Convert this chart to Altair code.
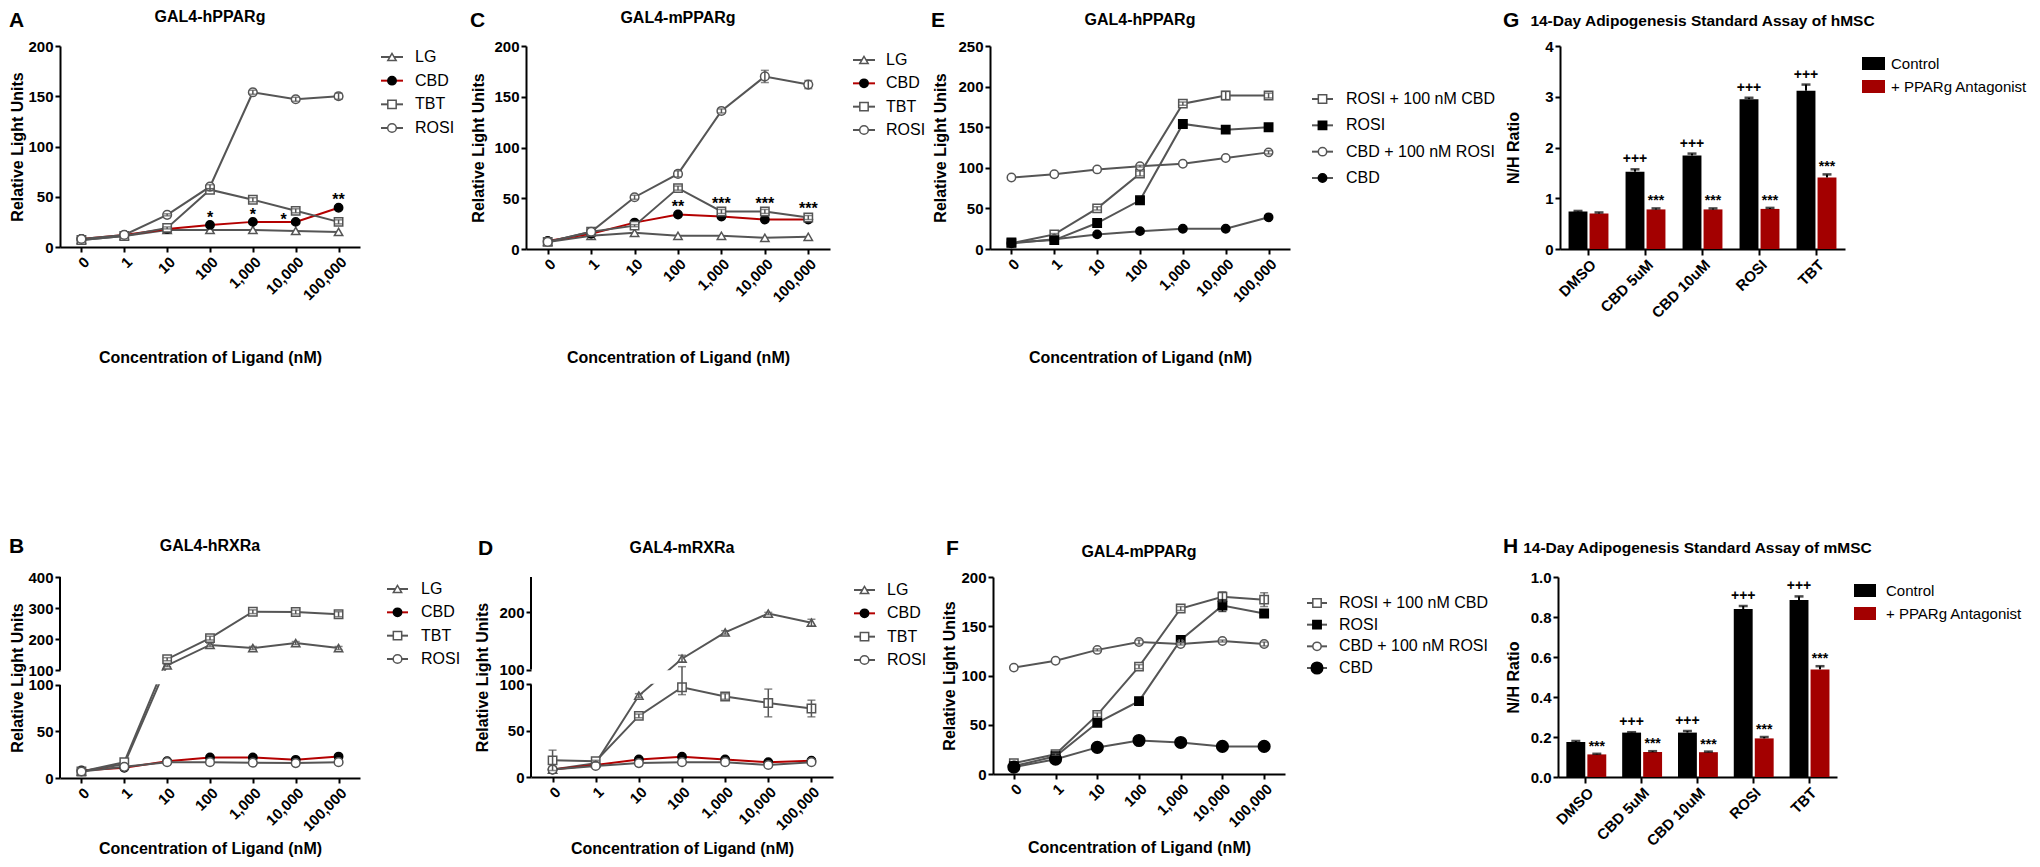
import altair as alt
import pandas as pd

FONT = "Liberation Sans, Arial, Helvetica, sans-serif"
GRAY = "#555555"
RED_LINE = "#b40000"
RED_BAR = "#a30000"

# ---------------- data ----------------
CONC = ["0", "1", "10", "100", "1,000", "10,000", "100,000"]
LIG = ["LG", "CBD", "TBT", "ROSI"]
COMBO = ["ROSI + 100 nM CBD", "ROSI", "CBD + 100 nM ROSI", "CBD"]

# A: GAL4-hPPARg
A_LG = [7, 11, 17, 17, 17, 16, 15]
A_CBD = [8, 12, 18, 22, 25, 25, 39]
A_TBT = [7, 11, 19, 57, 47, 36, 25]
A_ROSI = [8, 12, 32, 60, 154, 147, 150]
A_TBT_ERR = [0, 0, 1, 1, 2, 2, 2]
A_ROSI_ERR = [0, 0, 1, 2, 2, 2, 3]
A_STAR_AT = ["100", "1,000", "10,000", "100,000"]
A_STARS = ["*", "*", "*", "**"]

# C: GAL4-mPPARg
C_LG = [7, 13, 16, 13, 13, 11, 12]
C_CBD = [8, 15, 26, 34, 32, 29, 29]
C_TBT = [7, 17, 23, 60, 37, 37, 31]
C_ROSI = [7, 17, 51, 74, 136, 170, 162]
C_TBT_ERR = [0, 0, 1, 2, 2, 2, 2]
C_ROSI_ERR = [0, 0, 2, 3, 2, 6, 4]
C_STAR_AT = ["100", "1,000", "10,000", "100,000"]
C_STARS = ["**", "***", "***", "***"]

# B: GAL4-hRXRa
B_LG = [7, 15, 115, 181, 171, 187, 171]
B_CBD = [8, 11, 18, 22, 22, 19.5, 23]
B_TBT = [7, 17, 135, 203, 288, 287, 280]
B_ROSI = [7, 12, 17, 17, 16.5, 16, 17]
B_LG_ERR = [0, 0, 4, 5, 5, 5, 5]
B_TBT_ERR = [0, 0, 5, 6, 6, 6, 8]

# D: GAL4-mRXRa
D_LG = [8, 15, 88, 119, 165, 198, 182]
D_CBD = [8, 13, 19, 22, 19, 16, 17.5]
D_TBT = [18, 17, 66, 97, 87, 80, 74]
D_ROSI = [8, 12, 15, 16, 16, 13, 16]
D_LG_ERR = [0, 0, 2, 6, 3, 2, 6]
D_TBT_ERR = [11, 1, 2, 8, 3, 15, 9]

# E: GAL4-hPPARg combinations
E_RC = [7, 18, 50, 93, 179, 189, 189]
E_ROSI = [8, 11, 32, 60, 154, 147, 150]
E_CR = [88, 92, 98, 102, 105, 112, 119]
E_CBD = [7, 12, 18, 22, 25, 25, 39]
E_RC_ERR = [0, 1, 2, 3, 2, 5, 3]
E_CR_ERR = [0, 0, 0, 1, 0, 0, 2]

# F: GAL4-mPPARg combinations
F_RC = [11, 20, 60, 109, 168, 180, 177]
F_ROSI = [8, 18, 52, 74, 136, 171, 163]
F_CR = [108, 115, 126, 134, 132, 135, 132]
F_CBD = [7, 15, 27, 34, 32, 28, 28]
F_RC_ERR = [0, 1, 2, 2, 2, 5, 7]
F_ROSI_ERR = [0, 0, 1, 1, 2, 6, 2]
F_CR_ERR = [0, 0, 1, 2, 1, 1, 2]

# G / H: adipogenesis bars
BAR_CATS = ["DMSO", "CBD 5uM", "CBD 10uM", "ROSI", "TBT"]
BAR_GROUPS = ["Control", "+ PPARg Antagonist"]
G_CTRL = [0.74, 1.52, 1.84, 2.95, 3.12]
G_CTRL_ERR = [0.01, 0.05, 0.04, 0.03, 0.12]
G_ANT = [0.70, 0.78, 0.78, 0.79, 1.41]
G_ANT_ERR = [0.02, 0.02, 0.02, 0.02, 0.06]
G_CTRL_MARK = ["", "+++", "+++", "+++", "+++"]
G_ANT_MARK = ["", "***", "***", "***", "***"]
H_CTRL = [0.175, 0.222, 0.222, 0.84, 0.885]
H_CTRL_ERR = [0.005, 0.002, 0.008, 0.015, 0.018]
H_ANT = [0.113, 0.125, 0.124, 0.193, 0.538]
H_ANT_ERR = [0.003, 0.004, 0.003, 0.007, 0.016]
H_CTRL_MARK = ["", "+++", "+++", "+++", "+++"]
H_ANT_MARK = ["***", "***", "***", "***", "***"]

# ---------------- styles / layout (page pixel coordinates) ----------------
STYLE_LIG = {
    "LG": dict(shape="triangle-up", fill="white", stroke=GRAY, line=GRAY, size=70),
    "CBD": dict(shape="circle", fill="black", stroke="black", line=RED_LINE, size=70),
    "TBT": dict(shape="square", fill="white", stroke=GRAY, line=GRAY, size=70),
    "ROSI": dict(shape="circle", fill="white", stroke=GRAY, line=GRAY, size=75),
}
STYLE_E = {
    "ROSI + 100 nM CBD": dict(shape="square", fill="white", stroke=GRAY, line=GRAY, size=70),
    "ROSI": dict(shape="square", fill="black", stroke="black", line=GRAY, size=70),
    "CBD + 100 nM ROSI": dict(shape="circle", fill="white", stroke=GRAY, line=GRAY, size=70),
    "CBD": dict(shape="circle", fill="black", stroke="black", line=GRAY, size=70),
}
STYLE_F = dict(STYLE_E)
STYLE_F["CBD"] = dict(shape="circle", fill="black", stroke="black", line=GRAY, size=135)

A_STAR_OFF = [(0, -2), (0, -2), (-12, 3), (0, -3)]
C_STAR_OFF = [(0, -2), (0, -8), (0, -11), (0, -6)]

GEO = {
    "A": dict(PL=60, PT=46, W=300, H=201, X0=8, X1=466, RT=8, RB=468, letter=(9, 27), title_y=22,
              ly=(57, 128), lx=(381, 403), mx=392, tx=415, ytp=3, xtp=42),
    "C": dict(PL=526, PT=46, W=304, H=203, X0=466, X1=930, RT=8, RB=468, letter=(470, 27), title_y=23,
              ly=(60, 130), lx=(853, 875), mx=864, tx=886, ytp=8, xtp=40),
    "E": dict(PL=990, PT=46, W=300, H=203, X0=930, X1=1502, RT=8, RB=468, letter=(931, 27), title_y=25,
              ly=(99, 178), lx=(1312, 1333), mx=1322.5, tx=1346, ytp=10, xtp=40),
    "G": dict(PL=1560, PT=46, W=285, H=203, X0=1502, X1=2030, RT=8, RB=468, letter=(1503, 27), title_y=26,
              ly=(63.5, 86.5), lx=(1862, 1885), tx=1891, ytp=7),
    "B": dict(PL=60, PT=577, W=300, H=201, X0=8, X1=466, RT=468, RB=858, letter=(9, 553), title_y=551,
              ly=(589, 659), lx=(387, 408), mx=397.5, tx=421, ytp=3, xtp=2),
    "D": dict(PL=531, PT=577, W=302, H=200, X0=466, X1=930, RT=468, RB=858, letter=(478, 555), title_y=553,
              ly=(590, 660), lx=(854, 875), mx=864.5, tx=887, ytp=9, xtp=3),
    "F": dict(PL=993, PT=577, W=292, H=197, X0=930, X1=1502, RT=468, RB=858, letter=(946, 555), title_y=557,
              ly=(603, 668), lx=(1307, 1327), mx=1317, tx=1339, ytp=4, xtp=5),
    "H": dict(PL=1558, PT=577, W=279, H=200, X0=1502, X1=2030, RT=468, RB=858, letter=(1503, 553), title_y=553,
              ly=(590.5, 613.5), lx=(1854, 1876), tx=1886, ytp=5),
}

ONE = pd.DataFrame({"k": [0]})


def deco(g, letter, title, title_size=16):
    box = alt.Chart(ONE).mark_rule(opacity=0).encode(
        x=alt.value(g["X0"] - g["PL"]), x2=alt.value(g["X1"] - g["PL"]),
        y=alt.value(g["RT"] - g["PT"]), y2=alt.value(g["RB"] - g["PT"]))
    let = alt.Chart(ONE).mark_text(text=letter, font=FONT, fontSize=21, fontWeight="bold", align="left",
                                   baseline="alphabetic", color="black").encode(
        x=alt.value(g["letter"][0] - g["PL"]), y=alt.value(g["letter"][1] - g["PT"]))
    tit = alt.Chart(ONE).mark_text(text=title, font=FONT, fontSize=title_size, fontWeight="bold", align="center",
                                   baseline="alphabetic", color="black").encode(
        x=alt.value(g["W"] / 2), y=alt.value(g["title_y"] - g["PT"]))
    return [box, let, tit]


def disp(field, broken):
    if broken is None:
        return f"datum.{field}"
    gap, k = broken
    return f"datum.{field} <= 100 ? datum.{field} : {gap} + (datum.{field} - 100) * {k}"


def legend_y(field, names, g):
    return alt.Y(f"{field}:N", sort=names, axis=None,
                 scale=alt.Scale(type="point", domain=names,
                                 range=[g["ly"][0] - g["PT"], g["ly"][1] - g["PT"]], padding=0))


def line_panel(spec):
    g = GEO[spec["key"]]
    names = spec["names"]
    style = spec["style"]
    broken = spec.get("broken")
    rows = []
    for s in names:
        errs = spec["errors"].get(s, [0] * len(CONC))
        for c, v, e in zip(CONC, spec["values"][s], errs):
            rows.append({"conc": c, "series": s, "value": v, "err": e})
    df = pd.DataFrame(rows)
    base = alt.Chart(df).transform_calculate(
        lo_raw="datum.value - datum.err", hi_raw="datum.value + datum.err"
    ).transform_calculate(d=disp("value", broken)).transform_calculate(
        lo=disp("lo_raw", broken)).transform_calculate(hi=disp("hi_raw", broken))

    ysc = alt.Scale(domain=[0, spec["ytop"]], nice=False, zero=False)
    axkw = dict(values=spec["yticks"], title="Relative Light Units", grid=False, domain=broken is None,
                titlePadding=g["ytp"], minExtent=32, maxExtent=32, labelOverlap=False)
    if broken is not None:
        axkw["labelExpr"] = spec["labelExpr"]
    yax = alt.Axis(**axkw)

    def Y(f):
        return alt.Y(f"{f}:Q", scale=ysc, axis=yax)

    X = alt.X("conc:O", sort=CONC, scale=alt.Scale(type="point", padding=0.5),
              axis=alt.Axis(title="Concentration of Ligand (nM)", labelAngle=-45, labelPadding=2,
                            titlePadding=g["xtp"], minExtent=60, maxExtent=60, labelOverlap=False))

    layers = []
    for s in names:
        layers.append(base.transform_filter(alt.datum.series == s).mark_line(
            color=style[s]["line"], strokeWidth=2).encode(x=X, y=Y("d")))
    if broken is not None:
        gap = broken[0]
        gdf = pd.DataFrame({"y0": [100.8], "y1": [gap - 0.8]})
        layers.append(alt.Chart(gdf).mark_rect(color="white").encode(
            x=alt.value(1), x2=alt.value(g["W"]), y=Y("y0"), y2=alt.Y2("y1")))
    for s in names:
        st = style[s]
        layers.append(base.transform_filter(alt.datum.series == s).mark_point(
            shape=st["shape"], size=st["size"], filled=True, fill=st["fill"], stroke=st["stroke"],
            strokeWidth=1.5, opacity=1).encode(x=X, y=Y("d")))
    for s in names:
        if s not in spec["errors"]:
            continue
        eb = base.transform_filter(alt.datum.series == s).transform_filter("datum.err > 0")
        col = style[s]["stroke"]
        layers.append(eb.mark_rule(color=col, strokeWidth=1.5).encode(x=X, y=Y("lo"), y2=alt.Y2("hi")))
        layers.append(eb.mark_tick(color=col, thickness=1.5, size=8).encode(x=X, y=Y("hi")))
        layers.append(eb.mark_tick(color=col, thickness=1.5, size=8).encode(x=X, y=Y("lo")))
    for c, txt, (dx, dy) in zip(spec.get("star_at", []), spec.get("stars", []), spec.get("star_off", [])):
        v = spec["values"][spec["star_series"]][CONC.index(c)]
        adf = pd.DataFrame({"conc": [c], "value": [v], "t": [txt]})
        layers.append(alt.Chart(adf).mark_text(font=FONT, fontSize=16, fontWeight="bold", color="black",
                                               baseline="alphabetic", dx=dx, dy=dy).encode(
            x=X, y=Y("value"), text="t:N"))
    if broken is not None:
        gap = broken[0]
        ddf = pd.DataFrame({"y0": [0, gap], "y1": [100, spec["ytop"]]})
        layers.append(alt.Chart(ddf).mark_rule(color="black", strokeWidth=2).encode(
            x=alt.value(0), y=Y("y0"), y2=alt.Y2("y1")))
    layers += deco(g, spec["letter"], spec["title"])

    # legend
    ldf = pd.DataFrame({"series": names})
    LY = legend_y("series", names, g)
    leg = []
    for s in names:
        st = style[s]
        lb = alt.Chart(ldf).transform_filter(alt.datum.series == s)
        leg.append(lb.mark_rule(color=st["line"], strokeWidth=2).encode(
            x=alt.value(g["lx"][0] - g["PL"]), x2=alt.value(g["lx"][1] - g["PL"]), y=LY))
        leg.append(lb.mark_point(shape=st["shape"], size=st["size"], filled=True, fill=st["fill"],
                                 stroke=st["stroke"], strokeWidth=1.5, opacity=1).encode(
            x=alt.value(g["mx"] - g["PL"]), y=LY))
    leg.append(alt.Chart(ldf).mark_text(font=FONT, fontSize=16, align="left", baseline="middle",
                                        color="black").encode(
        x=alt.value(g["tx"] - g["PL"]), y=LY, text="series:N"))

    return alt.layer(alt.layer(*layers), alt.layer(*leg)).resolve_scale(y="independent").properties(
        width=g["W"], height=g["H"])


def bar_panel(spec):
    g = GEO[spec["key"]]
    rows = []
    for i, c in enumerate(BAR_CATS):
        for grp, vals, errs, marks in [(BAR_GROUPS[0], spec["ctrl"], spec["ctrl_err"], spec["ctrl_mark"]),
                                       (BAR_GROUPS[1], spec["ant"], spec["ant_err"], spec["ant_mark"])]:
            rows.append({"cat": c, "grp": grp, "val": vals[i], "hi": vals[i] + errs[i], "mark": marks[i]})
    df = pd.DataFrame(rows)
    base = alt.Chart(df)
    X = alt.X("cat:N", sort=BAR_CATS, scale=alt.Scale(domain=BAR_CATS, paddingInner=0.3, paddingOuter=0.15),
              axis=alt.Axis(title=None, labelAngle=-45, tickSize=6, labelPadding=2, labelOverlap=False))
    XO = alt.XOffset("grp:N", sort=BAR_GROUPS, scale=alt.Scale(domain=BAR_GROUPS, paddingInner=0.1))
    ysc = alt.Scale(domain=[0, spec["ytop"]], nice=False)
    yax = alt.Axis(values=spec["yticks"], title="N/H Ratio", format=spec["fmt"], grid=False,
                   titlePadding=g["ytp"], minExtent=32, maxExtent=32, labelOverlap=False)

    def Y(f):
        return alt.Y(f"{f}:Q", scale=ysc, axis=yax)

    col = alt.Color("grp:N", scale=alt.Scale(domain=BAR_GROUPS, range=["#000000", RED_BAR]), legend=None)
    layers = [
        base.mark_bar().encode(x=X, xOffset=XO, y=Y("val"), color=col),
        base.mark_rule(color="black", strokeWidth=2).encode(x=X, xOffset=XO, y=Y("val"), y2=alt.Y2("hi")),
        base.mark_tick(color="black", thickness=2.5, size=9).encode(x=X, xOffset=XO, y=Y("hi")),
        base.transform_filter(alt.datum.grp == BAR_GROUPS[0]).mark_text(
            font=FONT, fontSize=14, fontWeight="bold", color="black", baseline="alphabetic", dy=-6).encode(
            x=X, xOffset=XO, y=Y("hi"), text="mark:N"),
        base.transform_filter(alt.datum.grp == BAR_GROUPS[1]).mark_text(
            font=FONT, fontSize=14, fontWeight="bold", color="black", baseline="alphabetic", dy=-3).encode(
            x=X, xOffset=XO, y=Y("hi"), text="mark:N"),
    ]
    layers += deco(g, spec["letter"], spec["title"], title_size=15.5)

    ldf = pd.DataFrame({"grp": BAR_GROUPS})
    LY = legend_y("grp", BAR_GROUPS, g)
    leg = [
        alt.Chart(ldf).mark_rule(strokeWidth=13).encode(
            x=alt.value(g["lx"][0] - g["PL"]), x2=alt.value(g["lx"][1] - g["PL"]), y=LY, color=col),
        alt.Chart(ldf).mark_text(font=FONT, fontSize=15, align="left", baseline="middle", color="black").encode(
            x=alt.value(g["tx"] - g["PL"]), y=LY, text="grp:N"),
    ]
    return alt.layer(alt.layer(*layers), alt.layer(*leg)).resolve_scale(y="independent").properties(
        width=g["W"], height=g["H"])


TICKS_STD = [0, 50, 100, 150, 200]

pA = line_panel(dict(key="A", letter="A", title="GAL4-hPPARg", names=LIG, style=STYLE_LIG,
                     values={"LG": A_LG, "CBD": A_CBD, "TBT": A_TBT, "ROSI": A_ROSI},
                     errors={"TBT": A_TBT_ERR, "ROSI": A_ROSI_ERR}, ytop=200, yticks=TICKS_STD,
                     star_at=A_STAR_AT, stars=A_STARS, star_off=A_STAR_OFF, star_series="CBD"))
pC = line_panel(dict(key="C", letter="C", title="GAL4-mPPARg", names=LIG, style=STYLE_LIG,
                     values={"LG": C_LG, "CBD": C_CBD, "TBT": C_TBT, "ROSI": C_ROSI},
                     errors={"TBT": C_TBT_ERR, "ROSI": C_ROSI_ERR}, ytop=200, yticks=TICKS_STD,
                     star_at=C_STAR_AT, stars=C_STARS, star_off=C_STAR_OFF, star_series="CBD"))
pE = line_panel(dict(key="E", letter="E", title="GAL4-hPPARg", names=COMBO, style=STYLE_E,
                     values={COMBO[0]: E_RC, COMBO[1]: E_ROSI, COMBO[2]: E_CR, COMBO[3]: E_CBD},
                     errors={COMBO[0]: E_RC_ERR, COMBO[2]: E_CR_ERR}, ytop=250,
                     yticks=[0, 50, 100, 150, 200, 250]))
pG = bar_panel(dict(key="G", letter="G", title="14-Day Adipogenesis Standard Assay of hMSC",
                    ctrl=G_CTRL, ctrl_err=G_CTRL_ERR, ant=G_ANT, ant_err=G_ANT_ERR,
                    ctrl_mark=G_CTRL_MARK, ant_mark=G_ANT_MARK, ytop=4, yticks=[0, 1, 2, 3, 4], fmt="d"))

pB = line_panel(dict(key="B", letter="B", title="GAL4-hRXRa", names=LIG, style=STYLE_LIG,
                     values={"LG": B_LG, "CBD": B_CBD, "TBT": B_TBT, "ROSI": B_ROSI},
                     errors={"LG": B_LG_ERR, "TBT": B_TBT_ERR}, ytop=216, broken=(116, 1 / 3),
                     yticks=[0, 50, 100, 116, 116 + 100 / 3, 116 + 200 / 3, 216],
                     labelExpr="datum.value <= 100.5 ? format(datum.value, 'd') : format(round(100 + (datum.value - 116) * 3), 'd')"))
pD = line_panel(dict(key="D", letter="D", title="GAL4-mRXRa", names=LIG, style=STYLE_LIG,
                     values={"LG": D_LG, "CBD": D_CBD, "TBT": D_TBT, "ROSI": D_ROSI},
                     errors={"LG": D_LG_ERR, "TBT": D_TBT_ERR}, ytop=216.1, broken=(116.1, 1 / 1.62),
                     yticks=[0, 50, 100, 116.1, 116.1 + 100 / 1.62],
                     labelExpr="datum.value <= 100.5 ? format(datum.value, 'd') : format(round(100 + (datum.value - 116.1) * 1.62), 'd')"))
pF = line_panel(dict(key="F", letter="F", title="GAL4-mPPARg", names=COMBO, style=STYLE_F,
                     values={COMBO[0]: F_RC, COMBO[1]: F_ROSI, COMBO[2]: F_CR, COMBO[3]: F_CBD},
                     errors={COMBO[0]: F_RC_ERR, COMBO[1]: F_ROSI_ERR, COMBO[2]: F_CR_ERR}, ytop=200,
                     yticks=TICKS_STD))
pH = bar_panel(dict(key="H", letter="H", title="14-Day Adipogenesis Standard Assay of mMSC",
                    ctrl=H_CTRL, ctrl_err=H_CTRL_ERR, ant=H_ANT, ant_err=H_ANT_ERR,
                    ctrl_mark=H_CTRL_MARK, ant_mark=H_ANT_MARK, ytop=1.0,
                    yticks=[0, 0.2, 0.4, 0.6, 0.8, 1.0], fmt=".1f"))

row1 = alt.hconcat(pA, pC, pE, pG, spacing=0)
row2 = alt.hconcat(pB, pD, pF, pH, spacing=0)

chart = alt.vconcat(row1, row2, spacing=0).properties(padding=0, background="white").configure_axis(
    labelFont=FONT, labelFontWeight="bold", labelFontSize=15, labelColor="black",
    titleFont=FONT, titleFontWeight="bold", titleFontSize=16, titleColor="black",
    domainColor="black", domainWidth=2, tickColor="black", tickWidth=2, tickSize=5, grid=False,
    labelPadding=2
).configure_view(stroke=None)

chart.save("out.html", embed_options={"renderer": "svg", "actions": False})
